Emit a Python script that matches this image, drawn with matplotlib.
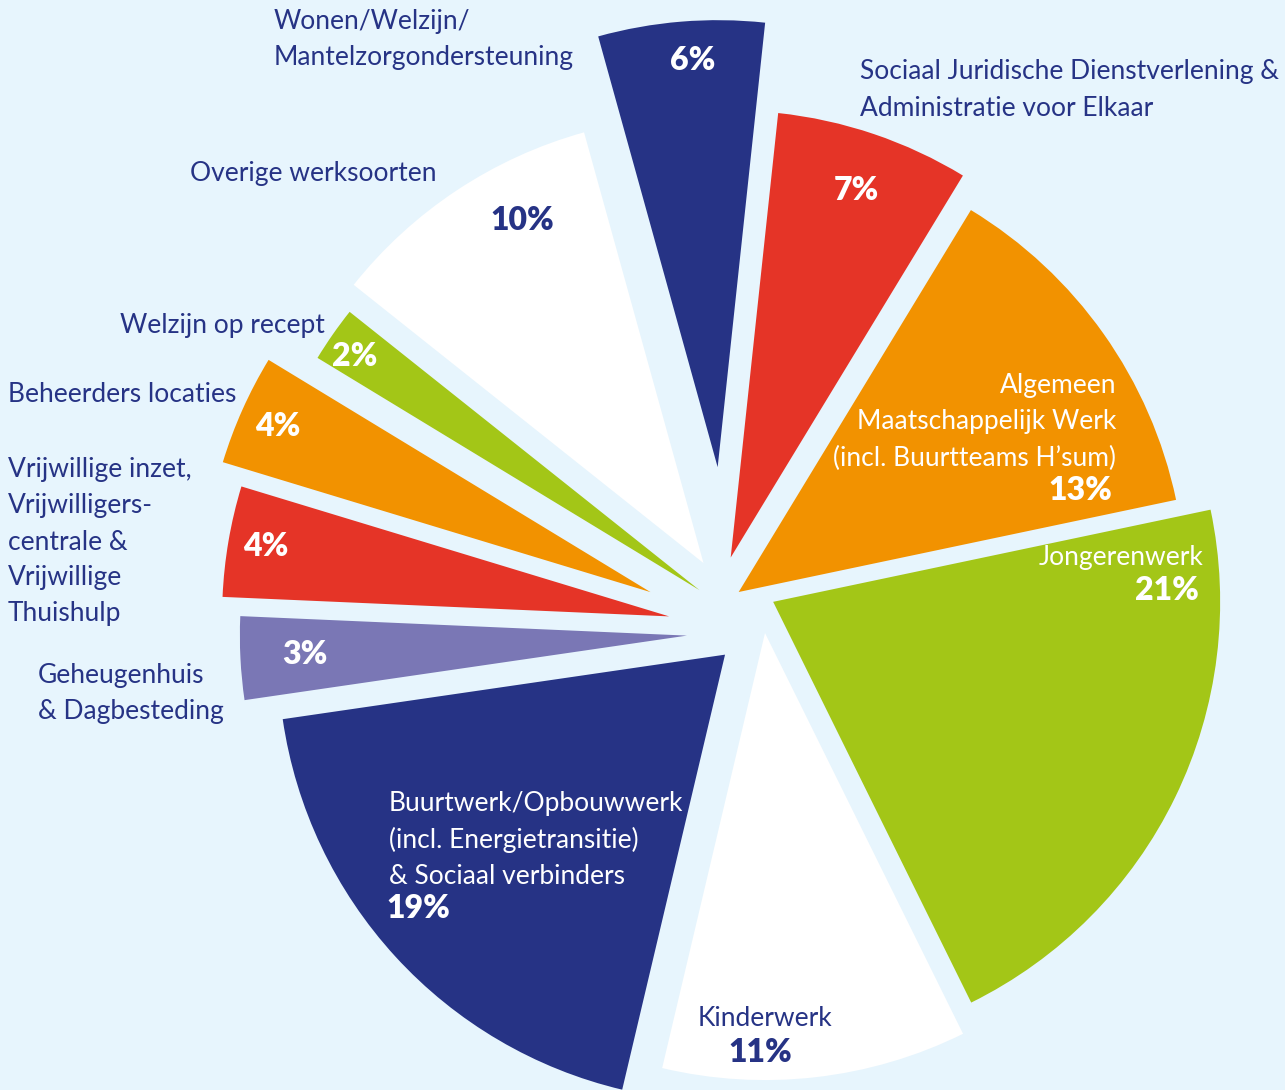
import matplotlib.pyplot as plt
from matplotlib.patches import Wedge
import numpy as np

# categories, clockwise from the top
labels = [
    "Wonen/Welzijn/\nMantelzorgondersteuning",
    "Sociaal Juridische Dienstverlening &\nAdministratie voor Elkaar",
    "Algemeen\nMaatschappelijk Werk\n(incl. Buurtteams H\u2019sum)",
    "Jongerenwerk",
    "Kinderwerk",
    "Buurtwerk/Opbouwwerk\n(incl. Energietransitie)\n& Sociaal verbinders",
    "Geheugenhuis\n& Dagbesteding",
    "Vrijwillige inzet,\nVrijwilligers-\ncentrale &\nVrijwillige\nThuishulp",
    "Beheerders locaties",
    "Welzijn op recept",
    "Overige werksoorten",
]
shares = [6, 7, 13, 21, 11, 19, 3, 4, 4, 2, 10]

# styling
navy = "#263385"
bg = "#E7F5FD"
colors = ["#263385", "#E53427", "#F29200", "#A3C617", "#FFFFFF", "#263385",
          "#7A77B5", "#E53427", "#F29200", "#A3C617", "#FFFFFF"]
explode = [151, 54, 15, 25, 19, 35, 52, 68, 90, 47, 64]   # px, outward
shift = [-8, -26, -20, -29, -25, -19, -16, -11, -13, 0, 1]  # px, sideways
radius = 447
center = np.array([738.0, 617.0])
start = -15.5  # degrees clockwise from north

# label placement (px), alignment and colour
lab_pos = [(274, 40), (860, 90), (1116, 422), (1204, 557), (765, 1018),
           (389, 840), (38, 693), (8, 542), (8, 395), (120, 325), (190, 173)]
lab_ha = ["left", "left", "right", "right", "center", "left", "left", "left",
          "left", "left", "left"]
lab_col = [navy, navy, "white", "white", navy, "white", navy, navy, navy, navy, navy]
pct_pos = [(693, 60), (856, 191), (1080, 490), (1167, 591), (760, 1052),
           (418, 908), (305, 654), (266, 547), (278, 427), (355, 356), (522, 220)]
pct_col = ["white", "white", "white", "white", navy, "white", "white", "white",
           "white", "white", navy]

fig = plt.figure(figsize=(12.85, 10.9), dpi=100, facecolor=bg)
ax = fig.add_axes([0, 0, 1, 1])
ax.set_facecolor(bg)
ax.set_xlim(0, 1285)
ax.set_ylim(1090, 0)
ax.axis("off")

edges = start + np.concatenate([[0], np.cumsum(shares)]) * 3.6
for i, s in enumerate(shares):
    b1, b2 = edges[i], edges[i + 1]
    mid = np.radians((b1 + b2) / 2)
    u = np.array([np.sin(mid), -np.cos(mid)])
    n = np.array([np.cos(mid), np.sin(mid)])
    apex = center + explode[i] * u + shift[i] * n
    ax.add_patch(Wedge(apex, radius, b1 - 90, b2 - 90, facecolor=colors[i],
                       edgecolor="none"))

for i, lab in enumerate(labels):
    x, y = lab_pos[i]
    ax.text(x, y, lab, ha=lab_ha[i], va="center", color=lab_col[i],
            fontsize=19, family="Lato", linespacing=1.55)
    px, py = pct_pos[i]
    ax.text(px, py, f"{shares[i]}%", ha="center", va="center", color=pct_col[i],
            fontsize=23, family="Lato", weight="heavy")

fig.savefig("out.png", dpi=100, facecolor=bg)
